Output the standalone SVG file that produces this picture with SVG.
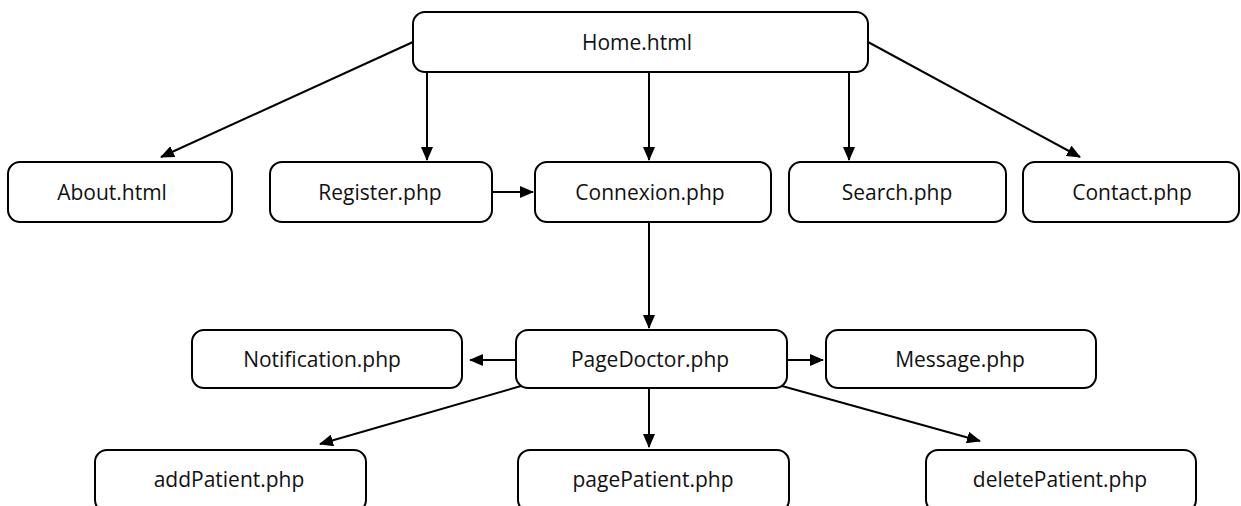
<svg xmlns="http://www.w3.org/2000/svg" width="1241" height="506" viewBox="0 0 1241 506">
  <style>
    .box { fill: #ffffff; stroke: #000000; stroke-width: 2; }
    .lbl { font-family: "Open Sans", "Liberation Sans", sans-serif; font-size: 21px; fill: #111111; text-anchor: middle; }
    .edge { stroke: #000000; stroke-width: 2; fill: none; marker-end: url(#arrow); }
  </style>
  <defs>
    <marker id="arrow" markerUnits="userSpaceOnUse" markerWidth="14" markerHeight="12" refX="13" refY="6" orient="auto">
      <path d="M0,0 L14,6 L0,12 z" fill="#000000"/>
    </marker>
  </defs>
  <rect width="1241" height="506" fill="#ffffff"/>

  <g id="connectors">
    <line class="edge" x1="413" y1="42" x2="161" y2="157"/>
    <line class="edge" x1="427" y1="72" x2="427" y2="160"/>
    <line class="edge" x1="649" y1="72" x2="649" y2="160"/>
    <line class="edge" x1="849" y1="72" x2="849" y2="160"/>
    <line class="edge" x1="868" y1="42" x2="1080" y2="157"/>
    <line class="edge" x1="492" y1="192" x2="533" y2="192"/>
    <line class="edge" x1="649" y1="222" x2="649" y2="328"/>
    <line class="edge" x1="516" y1="360" x2="470" y2="360"/>
    <line class="edge" x1="787" y1="360" x2="823" y2="360"/>
    <line class="edge" x1="521" y1="386" x2="320" y2="444"/>
    <line class="edge" x1="649" y1="388" x2="649" y2="447"/>
    <line class="edge" x1="782" y1="386" x2="980" y2="441"/>
  </g>

  <g id="home">
    <rect class="box" x="413" y="12" width="455" height="60" rx="12"/>
    <text class="lbl" x="637" y="50">Home.html</text>
  </g>
  <g id="about">
    <rect class="box" x="8" y="162" width="224" height="60" rx="12"/>
    <text class="lbl" x="112" y="200">About.html</text>
  </g>
  <g id="register">
    <rect class="box" x="270" y="162" width="222" height="60" rx="12"/>
    <text class="lbl" x="380" y="200">Register.php</text>
  </g>
  <g id="connexion">
    <rect class="box" x="535" y="162" width="236" height="60" rx="12"/>
    <text class="lbl" x="650" y="200">Connexion.php</text>
  </g>
  <g id="search">
    <rect class="box" x="789" y="162" width="217" height="60" rx="12"/>
    <text class="lbl" x="897" y="200">Search.php</text>
  </g>
  <g id="contact">
    <rect class="box" x="1023" y="162" width="216" height="60" rx="12"/>
    <text class="lbl" x="1132" y="200">Contact.php</text>
  </g>
  <g id="notification">
    <rect class="box" x="192" y="330" width="270" height="58" rx="12"/>
    <text class="lbl" x="322" y="367">Notification.php</text>
  </g>
  <g id="pagedoctor">
    <rect class="box" x="516" y="330" width="271" height="58" rx="12"/>
    <text class="lbl" x="650" y="367">PageDoctor.php</text>
  </g>
  <g id="message">
    <rect class="box" x="826" y="330" width="270" height="58" rx="12"/>
    <text class="lbl" x="960" y="367">Message.php</text>
  </g>
  <g id="addpatient">
    <rect class="box" x="95" y="450" width="271" height="62" rx="12"/>
    <text class="lbl" x="229" y="487">addPatient.php</text>
  </g>
  <g id="pagepatient">
    <rect class="box" x="518" y="450" width="271" height="62" rx="12"/>
    <text class="lbl" x="653" y="487">pagePatient.php</text>
  </g>
  <g id="deletepatient">
    <rect class="box" x="926" y="450" width="270" height="62" rx="12"/>
    <text class="lbl" x="1060" y="487">deletePatient.php</text>
  </g>
</svg>
